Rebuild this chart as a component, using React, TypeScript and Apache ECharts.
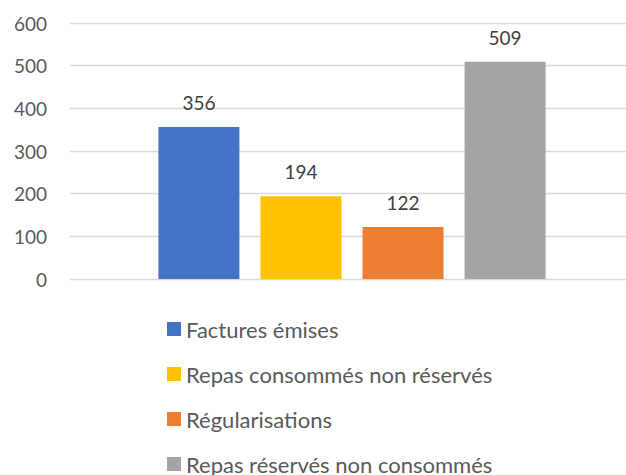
import React, { useEffect, useRef } from "react";
import * as echarts from "echarts";

const categories = [""];
const seriesNames = [
  "Factures émises",
  "Repas consommés non réservés",
  "Régularisations",
  "Repas réservés non consommés",
];
const seriesValues = [356, 194, 122, 509];
const seriesColors = ["#4472C4", "#FFC000", "#ED7D31", "#A5A5A5"];
const yTicks = { min: 0, max: 600, interval: 100 };

export default function App() {
  const ref = useRef<HTMLDivElement>(null);
  useEffect(() => {
    if (!ref.current) return;
    const chart = echarts.init(ref.current, null, { renderer: "svg" });
    const font = "Lato, 'Noto Sans', sans-serif";
    chart.setOption({
      animation: false,
      backgroundColor: "#ffffff",
      textStyle: { fontFamily: font },
      grid: {
        left: 70,
        top: 23,
        right: -8,
        height: 256,
        containLabel: false,
        outerBoundsMode: "none",
      },
      legend: {
        orient: "vertical",
        left: 167,
        top: 318,
        height: 240,
        padding: 0,
        itemWidth: 14,
        itemHeight: 14,
        itemGap: 23,
        icon: "rect",
        textStyle: { fontSize: 22, color: "#595959", fontFamily: font },
        data: seriesNames,
      },
      xAxis: {
        type: "category",
        data: categories,
        axisLine: { show: false },
        axisTick: { show: false },
        axisLabel: { show: false },
      },
      yAxis: {
        type: "value",
        min: yTicks.min,
        max: yTicks.max,
        interval: yTicks.interval,
        axisLine: { show: false },
        axisTick: { show: false },
        axisLabel: { fontSize: 19, color: "#595959", margin: 23, fontFamily: font },
        splitLine: { lineStyle: { color: "#d9d9d9", width: 1.3 } },
      },
      series: seriesNames.map((name, i) => ({
        name,
        type: "bar",
        data: [seriesValues[i]],
        barWidth: 81,
        barGap: "26%",
        itemStyle: { color: seriesColors[i] },
        label: {
          show: true,
          position: "top",
          distance: 15,
          fontSize: 19,
          color: "#404040",
          fontFamily: font,
        },
      })),
    });
    return () => chart.dispose();
  }, []);
  return (
    <div
      ref={ref}
      style={{ position: "absolute", left: 0, top: 0, width: 626, height: 475 }}
    />
  );
}
